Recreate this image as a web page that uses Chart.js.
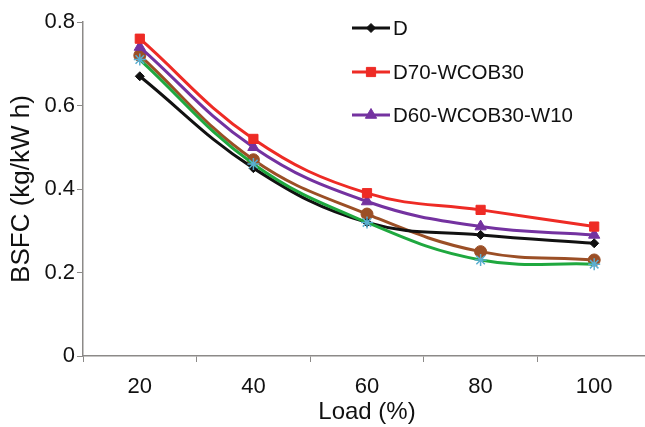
<!DOCTYPE html>
<html>
<head>
<meta charset="utf-8">
<script src="https://cdn.jsdelivr.net/npm/chart.js@4.4.1/dist/chart.umd.min.js"></script>
<style>
    html, body { margin: 0; padding: 0; background: #fff; overflow: hidden; }
    #wrap { width: 660px; height: 427px; }
</style>
</head>
<body>
<div id="wrap"><canvas id="bsfc-chart" width="660" height="427"></canvas></div>
<script>
// Load categories and BSFC values
const loads = ['20', '40', '60', '80', '100'];
const bsfcD = [0.67, 0.45, 0.32, 0.29, 0.27];
const bsfcD70 = [0.76, 0.52, 0.39, 0.35, 0.31];
const bsfcD60W10 = [0.74, 0.50, 0.37, 0.31, 0.29];
const bsfcBrown = [0.72, 0.47, 0.34, 0.25, 0.23];
const bsfcGreen = [0.71, 0.46, 0.32, 0.23, 0.22];
const seriesNames = ['D', 'D70-WCOB30', 'D60-WCOB30-W10'];
const yTicks = [0, 0.2, 0.4, 0.6, 0.8];

const FONT = '"Liberation Sans", Arial, sans-serif';
const AXIS_GREY = '#8c8a88';

/**
 * Legend drawn inside the plot, only the three named series
 */
const insideLegend = {
    id: 'insideLegend',
    afterDraw(chart) {
        const ctx = chart.ctx;
        const x0 = 352, x1 = 390, rows = [28, 72, 115];
        ctx.save();
        seriesNames.forEach((name, i) => {
            const ds = chart.data.datasets[i];
            const y = rows[i];
            ctx.strokeStyle = ds.borderColor;
            ctx.lineWidth = 3;
            ctx.beginPath();
            ctx.moveTo(x0, y);
            ctx.lineTo(x1, y);
            ctx.stroke();
            ctx.fillStyle = ds.pointBackgroundColor;
            ctx.strokeStyle = ds.pointBorderColor;
            ctx.lineWidth = 1;
            Chart.helpers.drawPoint(ctx, {
                pointStyle: ds.pointStyle,
                radius: ds.pointRadius,
                rotation: 0,
                borderWidth: 1
            }, (x0 + x1) / 2, y);
            ctx.fillStyle = '#111';
            ctx.font = '20.5px ' + FONT;
            ctx.textBaseline = 'middle';
            ctx.textAlign = 'left';
            ctx.fillText(name, x1 + 3, y + 1);
        });
        ctx.restore();
    }
};

function series(label, data, line, marker, style, radius, order) {
    return {
        label: label,
        data: data,
        borderColor: line,
        borderWidth: 3,
        pointStyle: style,
        pointRadius: radius,
        pointHoverRadius: radius,
        pointBackgroundColor: marker,
        pointBorderColor: marker,
        pointBorderWidth: style === 'star' ? 1.5 : 1,
        tension: 0.4,
        fill: false,
        order: order
    };
}

new Chart(document.getElementById('bsfc-chart'), {
    type: 'line',
    data: {
        labels: loads,
        datasets: [
            series(seriesNames[0], bsfcD, '#111111', '#111111', 'rectRot', 4.5, 1),
            series(seriesNames[1], bsfcD70, '#ee2b25', '#ee2b25', 'rect', 6.5, 2),
            series(seriesNames[2], bsfcD60W10, '#7432a0', '#7432a0', 'triangle', 6.5, 3),
            series('Series 4', bsfcBrown, '#9b4f26', '#9b4f26', 'circle', 6, 4),
            series('Series 5', bsfcGreen, '#1fa83f', '#5aaed0', 'star', 6, 0)
        ]
    },
    plugins: [insideLegend],
    options: {
        responsive: false,
        animation: false,
        layout: { padding: { top: 22, right: 9, left: 0, bottom: 0 } },
        plugins: {
            legend: { display: false },
            tooltip: { enabled: false }
        },
        scales: {
            x: {
                offset: true,
                grid: {
                    offset: true,
                    drawOnChartArea: false,
                    drawTicks: true,
                    tickLength: 6,
                    color: AXIS_GREY
                },
                border: { display: true, color: AXIS_GREY, width: 1.5 },
                ticks: {
                    color: '#111',
                    font: { family: FONT, size: 22 },
                    padding: 12,
                    maxRotation: 0
                },
                title: {
                    display: true,
                    text: 'Load (%)',
                    color: '#111',
                    font: { family: FONT, size: 24 },
                    padding: { top: 0, bottom: 0 }
                },
                afterFit(scale) { scale.height = 71; }
            },
            y: {
                min: 0,
                max: 0.8,
                afterBuildTicks(scale) {
                    scale.ticks = yTicks.map(v => ({ value: v }));
                },
                grid: {
                    drawOnChartArea: false,
                    drawTicks: true,
                    tickLength: 6,
                    color: AXIS_GREY
                },
                border: { display: true, color: AXIS_GREY, width: 1.5 },
                ticks: {
                    color: '#111',
                    font: { family: FONT, size: 22 },
                    padding: 2,
                    callback: v => (v === 0 ? '0' : v.toFixed(1))
                },
                title: {
                    display: true,
                    text: 'BSFC (kg/kW h)',
                    color: '#111',
                    font: { family: FONT, size: 26 },
                    padding: { top: 6, bottom: 0 }
                },
                afterFit(scale) { scale.width = 83; }
            }
        }
    }
});
</script>
</body>
</html>
